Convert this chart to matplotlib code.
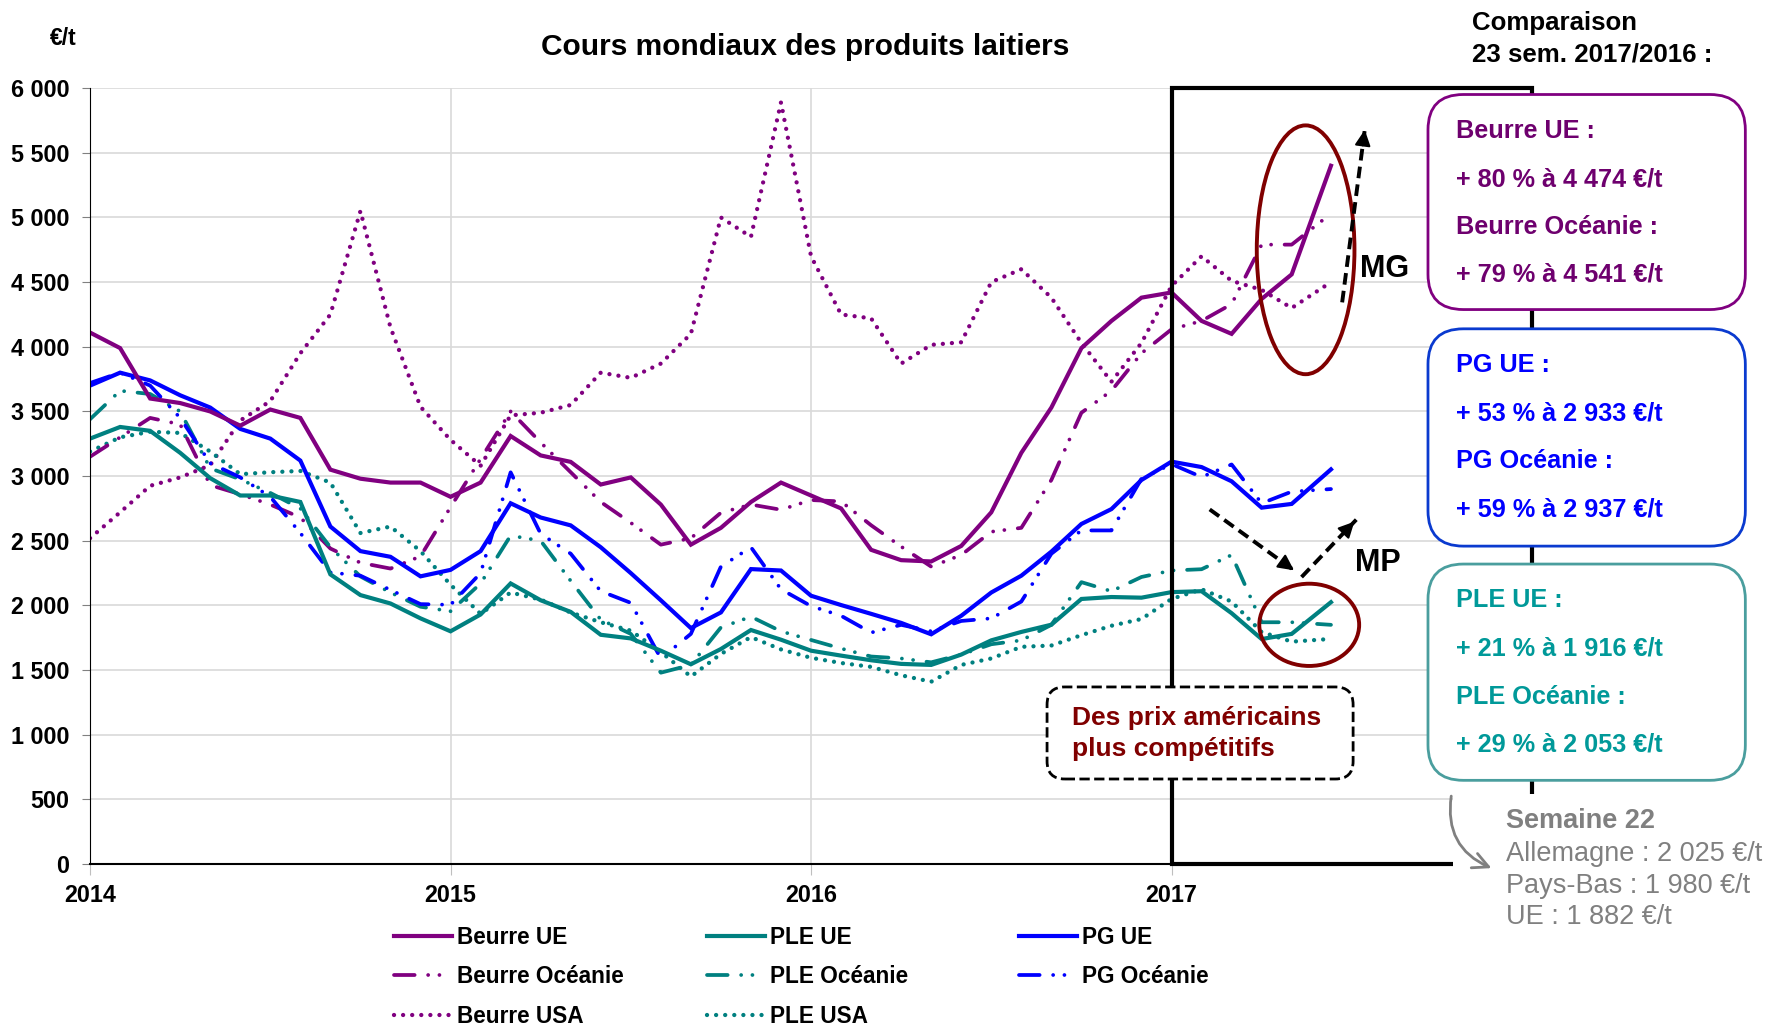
import matplotlib
matplotlib.use("Agg")
import matplotlib.pyplot as plt
from matplotlib.patches import FancyBboxPatch, Rectangle, Ellipse, FancyArrowPatch
from matplotlib.lines import Line2D
from matplotlib.ticker import FuncFormatter

plt.rcParams['font.family'] = ['Liberation Sans', 'DejaVu Sans']

# relevés mensuels janv. 2014 -> mai 2017, dernier point = semaine 23 de 2017
dates = [2014 + i / 12 for i in range(41)] + [2017 + 23 / 52]

beurre_ue = [4110, 3990, 3600, 3565, 3500, 3390, 3515, 3450, 3050, 2980, 2950, 2950,
             2840, 2950, 3310, 3160, 3110, 2935, 2990, 2780, 2470, 2600, 2800, 2950,
             2850, 2750, 2430, 2350, 2340, 2460, 2720, 3180, 3530, 3990, 4200, 4380,
             4420, 4200, 4100, 4370, 4560, 5400]
beurre_oc = [3150, 3300, 3450, 3400, 2930, 2860, 2780, 2680, 2440, 2330, 2285, 2380,
             2760, 3133, 3500, 3260, 3030, 2800, 2639, 2470, 2520, 2717, 2780, 2740,
             2815, 2804, 2620, 2455, 2300, 2390, 2570, 2600, 2970, 3490, 3660, 3950,
             4135, 4200, 4330, 4790, 4790, 5030]
beurre_usa = [2520, 2720, 2925, 2990, 3085, 3430, 3580, 3950, 4250, 5050, 4150, 3536,
              3280, 3080, 3470, 3490, 3550, 3800, 3760, 3870, 4100, 5000, 4850, 5890,
              4700, 4250, 4220, 3870, 4015, 4035, 4500, 4600, 4380, 4030, 3730, 4030,
              4470, 4700, 4510, 4440, 4300, 4500]
ple_ue = [3290, 3380, 3350, 3180, 2984, 2850, 2850, 2800, 2240, 2080, 2015, 1900,
          1800, 1930, 2170, 2040, 1950, 1773, 1745, 1650, 1545, 1663, 1810, 1735,
          1650, 1612, 1576, 1548, 1540, 1620, 1730, 1795, 1851, 2050, 2065, 2060,
          2103, 2110, 1940, 1740, 1780, 2025]
ple_oc = [3440, 3660, 3635, 3500, 3060, 2975, 2870, 2750, 2450, 2224, 2100, 1990,
          1955, 2170, 2540, 2500, 2190, 1890, 1780, 1480, 1540, 1830, 1913, 1800,
          1733, 1667, 1605, 1590, 1560, 1620, 1700, 1730, 1850, 2180, 2110, 2220,
          2270, 2280, 2390, 1870, 1870, 1850]
ple_usa = [3190, 3300, 3343, 3334, 3190, 3015, 3030, 3040, 2950, 2560, 2610, 2420,
           2160, 1935, 2100, 2045, 1945, 1870, 1805, 1640, 1450, 1625, 1755, 1660,
           1595, 1555, 1525, 1460, 1410, 1540, 1590, 1680, 1690, 1770, 1843, 1895,
           2050, 2125, 2030, 1794, 1720, 1741]
pg_ue = [3700, 3800, 3740, 3625, 3530, 3365, 3290, 3120, 2610, 2420, 2376, 2225,
         2275, 2420, 2790, 2680, 2619, 2450, 2250, 2040, 1825, 1946, 2281, 2270,
         2075, 2003, 1935, 1865, 1777, 1920, 2100, 2230, 2416, 2630, 2745, 2970,
         3112, 3070, 2960, 2756, 2785, 3052]
pg_oc = [3720, 3800, 3700, 3450, 3100, 2990, 2840, 2560, 2255, 2230, 2120, 2010,
         2005, 2250, 3029, 2554, 2400, 2110, 2020, 1590, 1780, 2300, 2450, 2125,
         1995, 1920, 1790, 1850, 1800, 1880, 1900, 2030, 2400, 2580, 2580, 2980,
         3093, 2993, 3090, 2790, 2880, 2900]

annees = [2014, 2015, 2016, 2017, 2018]
annees_labels = ['2014', '2015', '2016', '2017', '']

violet = '#800080'
sarcelle = '#008080'
bleu = '#0000FF'
rouge = '#800000'
gris = '#808080'

plein = '-'
pointille = (0, (0.01, 2.1))
tiret_pt = (0, (5.5, 3.6, 0.01, 3.0, 0.01, 3.6))

fig = plt.figure(figsize=(17.66, 10.25), dpi=100)
ax = fig.add_axes([0.051, 0.157, 0.8165, 0.757])

courbes = [
    (beurre_usa, violet, pointille, 'Beurre USA'),
    (ple_usa, sarcelle, pointille, 'PLE USA'),
    (beurre_oc, violet, tiret_pt, 'Beurre Océanie'),
    (ple_oc, sarcelle, tiret_pt, 'PLE Océanie'),
    (pg_oc, bleu, tiret_pt, 'PG Océanie'),
    (ple_ue, sarcelle, plein, 'PLE UE'),
    (pg_ue, bleu, plein, 'PG UE'),
    (beurre_ue, violet, plein, 'Beurre UE'),
]
styles = {}
for vals, coul, style, nom in courbes:
    lw = 3.0 if style == plein else (3.1 if style == pointille else 2.7)
    ax.plot(dates, vals, color=coul, lw=lw, linestyle=style,
            dash_capstyle='round', solid_joinstyle='miter', label=nom)
    styles[nom] = (coul, lw, style)

ax.set_xlim(2014, 2018)
ax.set_ylim(0, 6000)
ax.set_yticks(range(0, 6001, 500))
ax.yaxis.set_major_formatter(FuncFormatter(lambda v, p: f'{int(v):,}'.replace(',', ' ')))
ax.set_xticks(annees)
ax.set_xticklabels(annees_labels)
ax.grid(True, color='#D9D9D9', lw=1.2)
ax.set_axisbelow(True)
for s in ['top', 'right']:
    ax.spines[s].set_visible(False)
ax.spines['left'].set_color('black')
ax.spines['bottom'].set_color('black')
ax.spines['bottom'].set_linewidth(1.5)
ax.tick_params(axis='y', length=6, color=gris, pad=9, labelsize=16.8)
ax.tick_params(axis='x', length=8, color='#BFBFBF', pad=6, labelsize=16.8)
for lab in ax.get_xticklabels() + ax.get_yticklabels():
    lab.set_fontweight('bold')

# cadre 2017
ax.add_patch(Rectangle((2017, 0), 1, 6000, fill=False, edgecolor='black', lw=3,
                       clip_on=False, zorder=5))
ax.add_patch(Ellipse((2017.372, 4750), 0.271, 1924, fill=False, edgecolor=rouge,
                     lw=2.8, zorder=6, clip_on=False))
ax.add_patch(Ellipse((2017.382, 1850), 0.277, 636, fill=False, edgecolor=rouge,
                     lw=2.8, zorder=6, clip_on=False))

fig.text(0.456, 0.954, 'Cours mondiaux des produits laitiers', ha='center', va='center',
         fontsize=21.5, fontweight='bold')
fig.text(0.0357, 0.962, '€/t', ha='center', va='center', fontsize=16.5, fontweight='bold')

# légende en trois colonnes
colonnes = [(0.2231, ['Beurre UE', 'Beurre Océanie', 'Beurre USA']),
            (0.4004, ['PLE UE', 'PLE Océanie', 'PLE USA']),
            (0.5770, ['PG UE', 'PG Océanie'])]
for x0, noms in colonnes:
    hs = []
    for n in noms:
        coul, lw, style = styles[n]
        hs.append(Line2D([], [], color=coul, lw=lw, linestyle=style, dash_capstyle='round'))
    fig.legend(hs, noms, loc='upper left', bbox_to_anchor=(x0, 0.097), frameon=False,
               borderpad=0, borderaxespad=0, handlelength=2.55, handletextpad=0.25,
               labelspacing=0.74, prop={'weight': 'bold', 'size': 16.3})

# encadrés de droite
ar = 1766 / 1025
fig.text(0.8335, 0.978, 'Comparaison', ha='left', va='center', fontsize=18.6, fontweight='bold')
fig.text(0.8335, 0.947, '23 sem. 2017/2016 :', ha='left', va='center', fontsize=18.6,
         fontweight='bold')

encadres = [
    (0.698, 0.2098, violet, '#6E006E',
     ['Beurre UE :', '+ 80 % à 4 474 €/t', 'Beurre Océanie :', '+ 79 % à 4 541 €/t'],
     [0.872, 0.825, 0.779, 0.732]),
    (0.4672, 0.212, '#0A3ACF', bleu,
     ['PG UE :', '+ 53 % à 2 933 €/t', 'PG Océanie :', '+ 59 % à 2 937 €/t'],
     [0.644, 0.597, 0.550, 0.503]),
    (0.2387, 0.211, '#4A9E9E', '#009999',
     ['PLE UE :', '+ 21 % à 1 916 €/t', 'PLE Océanie :', '+ 29 % à 2 053 €/t'],
     [0.415, 0.367, 0.320, 0.274]),
]
for y0, h, bord, ctxt, lignes, ys in encadres:
    fig.add_artist(FancyBboxPatch((0.8086, y0), 0.1797, h, transform=fig.transFigure,
                                  boxstyle='round,pad=0,rounding_size=0.02',
                                  mutation_aspect=ar, facecolor='white', edgecolor=bord,
                                  lw=2.0, zorder=2))
    for t, yy in zip(lignes, ys):
        fig.text(0.8245, yy, t, ha='left', va='center', fontsize=18.2, fontweight='bold',
                 color=ctxt, zorder=3)

# zone semaine 22
fig.add_artist(Rectangle((0.823, 0.0), 0.177, 0.225, transform=fig.transFigure,
                         facecolor='white', edgecolor='none', zorder=2))
fig.text(0.853, 0.199, 'Semaine 22', ha='left', va='center', fontsize=19.5,
         fontweight='bold', color=gris, zorder=3)
for t, yy in zip(['Allemagne : 2 025 €/t', 'Pays-Bas : 1 980 €/t', 'UE : 1 882 €/t'],
                 [0.167, 0.136, 0.105]):
    fig.text(0.853, yy, t, ha='left', va='center', fontsize=19.5, color=gris, zorder=3)
fig.add_artist(FancyArrowPatch((0.822, 0.226), (0.846, 0.152), transform=fig.transFigure,
                               connectionstyle='arc3,rad=0.4', arrowstyle='->',
                               mutation_scale=28, color=gris, lw=2, zorder=3))

# encadré prix américains
fig.add_artist(FancyBboxPatch((0.5929, 0.2400), 0.1733, 0.0898, transform=fig.transFigure,
                              boxstyle='round,pad=0,rounding_size=0.01',
                              mutation_aspect=ar, facecolor='white', edgecolor='black',
                              lw=2.0, linestyle='--', zorder=2))
fig.text(0.607, 0.300, 'Des prix américains', ha='left', va='center', fontsize=19,
         fontweight='bold', color=rouge, zorder=3)
fig.text(0.607, 0.269, 'plus compétitifs', ha='left', va='center', fontsize=19,
         fontweight='bold', color=rouge, zorder=3)

# flèches MG / MP
def fleche(p0, p1):
    fig.add_artist(Line2D([p0[0], p1[0]], [p0[1], p1[1]], transform=fig.transFigure,
                          color='black', lw=2.8, linestyle=(0, (3, 1.6)), zorder=3))
    dx, dy = p1[0] - p0[0], p1[1] - p0[1]
    fig.add_artist(FancyArrowPatch((p1[0] - 0.12 * dx, p1[1] - 0.12 * dy), p1,
                                   transform=fig.transFigure, arrowstyle='-|>',
                                   mutation_scale=24, color='black', lw=1.5, zorder=3))

fleche((0.760, 0.705), (0.773, 0.876))
fleche((0.685, 0.503), (0.734, 0.442))
fleche((0.737, 0.437), (0.768, 0.493))
fig.text(0.784, 0.738, 'MG', ha='center', va='center', fontsize=22, fontweight='bold')
fig.text(0.780, 0.451, 'MP', ha='center', va='center', fontsize=22, fontweight='bold')

fig.savefig('out.png', dpi=100)
